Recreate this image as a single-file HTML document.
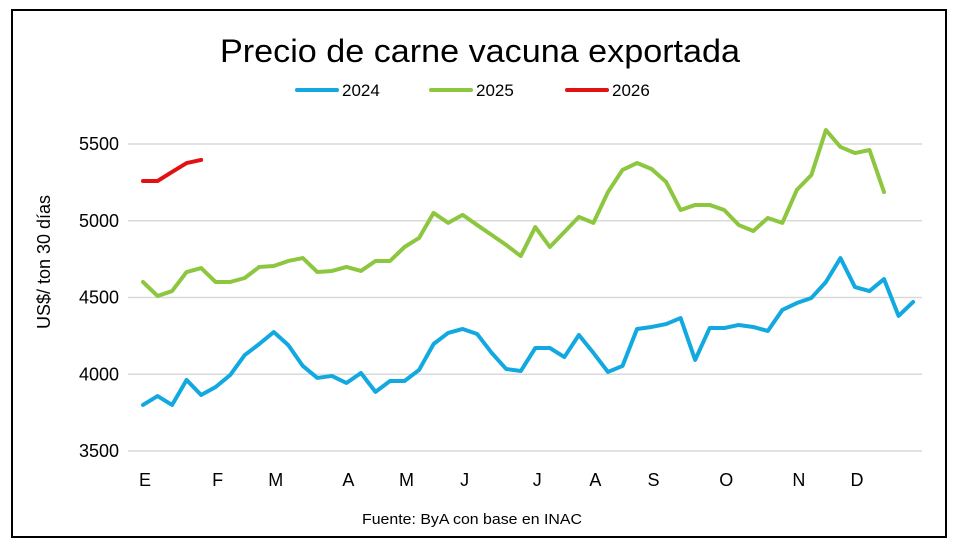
<!DOCTYPE html>
<html><head><meta charset="utf-8"><style>
body{margin:0;background:#fff;font-family:"Liberation Sans",Arial,sans-serif}
svg text{font-family:"Liberation Sans",Arial,sans-serif}
</style></head><body>
<svg width="960" height="552">
<rect x="12" y="10" width="934" height="527" fill="#fff" stroke="#000" stroke-width="2"/>
<text x="480" y="62" font-size="32" text-anchor="middle" fill="#000" textLength="520" lengthAdjust="spacingAndGlyphs">Precio de carne vacuna exportada</text>
<g id="legend"></g>
<g id="grid"></g>
<g id="plot"></g>
<text transform="translate(50,262) rotate(-90)" font-size="18" text-anchor="middle" fill="#000">US$/ ton 30 días</text>
<text x="472" y="524" font-size="15" text-anchor="middle" fill="#000" textLength="220" lengthAdjust="spacingAndGlyphs">Fuente: ByA con base en INAC</text>
</svg>
<script>
const yTicks=[3500,4000,4500,5000,5500];
const months=["E","F","M","A","M","J","J","A","S","O","N","D"];
const monthIdx=[0,5,9,14,18,22,27,31,35,40,45,49];
const s2024=[3800,3858,3800,3963,3865,3917,3995,4125,4197,4275,4190,4054,3976,3989,3943,4008,3885,3956,3956,4028,4197,4269,4295,4262,4139,4034,4021,4171,4171,4112,4256,4139,4015,4054,4295,4308,4327,4366,4093,4301,4301,4321,4308,4282,4419,4464,4497,4601,4757,4568,4542,4620,4380,4471];
const s2025=[4601,4510,4542,4666,4692,4601,4601,4627,4699,4705,4738,4757,4666,4673,4699,4673,4738,4738,4829,4888,5051,4986,5038,4972,4907,4842,4770,4959,4829,4927,5025,4986,5187,5331,5376,5337,5253,5070,5103,5103,5070,4972,4933,5018,4986,5201,5298,5591,5481,5441,5461,5187];
const s2026=[5259,5259,5318,5376,5396];
const series=[["2024",s2024,"#12a8e0"],["2025",s2025,"#8dc63f"],["2026",s2026,"#e31212"]];
const NS="http://www.w3.org/2000/svg";
const xs=i=>143+i*14.53;
const ys=v=>451-(v-3500)*0.1535;
const grid=document.getElementById('grid'),plot=document.getElementById('plot'),leg=document.getElementById('legend');
function mk(t,a,p){const e=document.createElementNS(NS,t);for(const k in a)e.setAttribute(k,a[k]);p.appendChild(e);return e;}
yTicks.forEach(v=>{
 const l=mk('line',{x1:128,x2:922,y1:ys(v),y2:ys(v),stroke:'#d9d9d9','stroke-width':1.5},grid);
 
 
 const t=mk('text',{x:119,y:ys(v)+6,'font-size':18,'text-anchor':'end',fill:'#000'},grid);
 t.textContent=v;
 
 
});
months.forEach((m,k)=>{
 const t=mk('text',{x:xs(monthIdx[k])+2,y:486,'font-size':18,'text-anchor':'middle',fill:'#000'},grid);
 t.textContent=m;
 
 
});
series.forEach(([name,vals,col],k)=>{
 const p=mk('polyline',{points:vals.map((v,i)=>xs(i)+','+ys(v)).join(' '),fill:'none',stroke:col,'stroke-width':4,'stroke-linejoin':'round','stroke-linecap':'round'},plot);
 
 
 const lx=[297,431,567][k];
 const ll=mk('line',{x1:lx,x2:lx+40,y1:90,y2:90,stroke:col,'stroke-width':4,'stroke-linecap':'round'},leg);
 
 
 const lt=mk('text',{x:lx+45,y:96,'font-size':17,fill:'#000'},leg);
 lt.textContent=name;
 
 
});
</script>
</body></html>
